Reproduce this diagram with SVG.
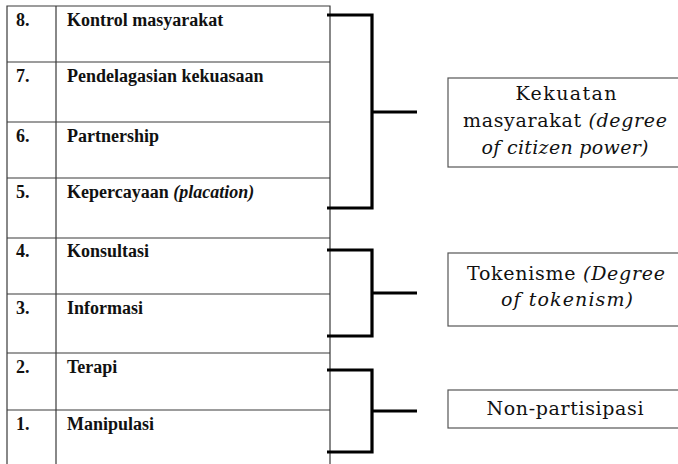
<svg xmlns="http://www.w3.org/2000/svg" width="678" height="464" viewBox="0 0 678 464">
<style>
.grid{stroke:#3a3a3a;stroke-width:1.2;fill:none}
.row{font-family:"Liberation Serif","Times New Roman",serif;font-size:18px;font-weight:bold;fill:#111}
.br{stroke:#000;stroke-width:3.2;fill:none}
.box{stroke:#555;stroke-width:1.2;fill:#fff}
.lbl{font-family:"DejaVu Serif","Liberation Serif",serif;font-size:19px;fill:#111;text-anchor:middle}
.it{font-style:italic}
</style>
<rect width="678" height="464" fill="#fff"/>
<g id="table">
<path class="grid" d="M7,470 V6 H330 V470 M56,6 V470 M7,62 H330 M7,122 H330 M7,178 H330 M7,238 H330 M7,294 H330 M7,353 H330 M7,410 H330"/>
</g>
<g id="row8"><text class="row" x="16" y="26">8.</text><text class="row" x="67" y="26">Kontrol masyarakat</text></g>
<g id="row7"><text class="row" x="16" y="82">7.</text><text class="row" x="67" y="82">Pendelagasian kekuasaan</text></g>
<g id="row6"><text class="row" x="16" y="142">6.</text><text class="row" x="67" y="142">Partnership</text></g>
<g id="row5"><text class="row" x="16" y="198">5.</text><text class="row" x="67" y="198">Kepercayaan <tspan font-style="italic">(placation)</tspan></text></g>
<g id="row4"><text class="row" x="16" y="257">4.</text><text class="row" x="67" y="257">Konsultasi</text></g>
<g id="row3"><text class="row" x="16" y="314">3.</text><text class="row" x="67" y="314">Informasi</text></g>
<g id="row2"><text class="row" x="16" y="373">2.</text><text class="row" x="67" y="373">Terapi</text></g>
<g id="row1"><text class="row" x="16" y="430">1.</text><text class="row" x="67" y="430">Manipulasi</text></g>
<g id="connectors">
<path class="br" d="M327,15 H372 V208 H327 M372,112 H417"/>
<path class="br" d="M327,250 H372 V336 H327 M372,293 H417"/>
<path class="br" d="M327,370 H372 V452 H327 M372,411 H417"/>
</g>
<g id="citizen-power">
<rect class="box" x="448" y="78" width="240" height="89"/>
<text class="lbl" x="566" y="100" textLength="101" lengthAdjust="spacing">Kekuatan</text>
<text class="lbl" x="565" y="127" textLength="204" lengthAdjust="spacing">masyarakat <tspan class="it">(degree</tspan></text>
<text class="lbl it" x="565" y="154" textLength="167" lengthAdjust="spacing">of citizen power)</text>
</g>
<g id="tokenism">
<rect class="box" x="448" y="253" width="240" height="73"/>
<text class="lbl" x="566" y="280" textLength="198" lengthAdjust="spacing">Tokenisme <tspan class="it">(Degree</tspan></text>
<text class="lbl it" x="567" y="306" textLength="132" lengthAdjust="spacing">of tokenism)</text>
</g>
<g id="non-participation">
<rect class="box" x="448" y="390" width="240" height="38"/>
<text class="lbl" x="565" y="415" textLength="157" lengthAdjust="spacing">Non-partisipasi</text>
</g>
</svg>
